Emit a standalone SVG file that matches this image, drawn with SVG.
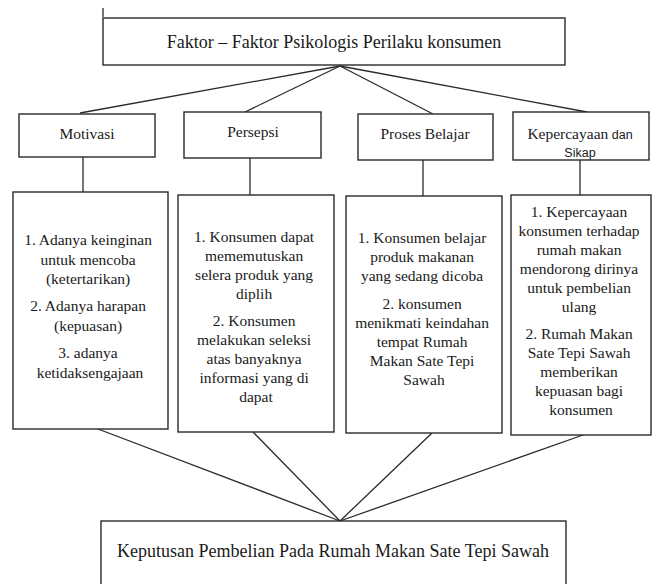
<svg xmlns="http://www.w3.org/2000/svg" width="653" height="584" viewBox="0 0 653 584">
<style>
.box{fill:#fff;stroke:#2a2a2a;stroke-width:1.4}
.ln{stroke:#2a2a2a;stroke-width:1.3;fill:none}
.t{font-family:"Liberation Serif","Times New Roman",serif;fill:#1a1a1a;text-anchor:middle}
.h{font-size:18px}
.m{font-size:15.5px}
.s{font-family:"Liberation Sans",Arial,sans-serif;font-size:12.5px;fill:#1a1a1a}
</style>
<rect width="653" height="584" fill="#fff"/>
<g id="connectors">
<line class="ln" x1="103" y1="8" x2="103" y2="17"/>
<line class="ln" x1="340" y1="66" x2="80" y2="113"/>
<line class="ln" x1="340" y1="66" x2="245" y2="112"/>
<line class="ln" x1="340" y1="66" x2="433" y2="114"/>
<line class="ln" x1="340" y1="66" x2="587" y2="112"/>
<line class="ln" x1="83" y1="157" x2="83" y2="192"/>
<line class="ln" x1="250" y1="158" x2="250" y2="195"/>
<line class="ln" x1="423" y1="160" x2="423" y2="196"/>
<line class="ln" x1="580" y1="160" x2="580" y2="195"/>
<line class="ln" x1="98" y1="429" x2="340" y2="521"/>
<line class="ln" x1="253" y1="432" x2="340" y2="521"/>
<line class="ln" x1="432" y1="433" x2="340" y2="521"/>
<line class="ln" x1="583" y1="435" x2="340" y2="521"/>
</g>
<g id="top">
<rect class="box" x="103" y="18" width="462" height="47"/>
<text class="t h" x="334" y="48">Faktor – Faktor Psikologis Perilaku konsumen</text>
</g>
<g id="motivasi">
<rect class="box" x="19" y="114" width="136" height="43"/>
<text class="t m" x="87" y="139">Motivasi</text>
</g>
<g id="persepsi">
<rect class="box" x="184" y="112" width="137" height="46"/>
<text class="t m" x="253" y="137">Persepsi</text>
</g>
<g id="proses">
<rect class="box" x="358" y="114" width="135" height="46"/>
<text class="t m" x="425" y="139">Proses Belajar</text>
</g>
<g id="kepercayaan">
<rect class="box" x="513" y="112" width="136" height="48"/>
<text x="580" y="139" style="text-anchor:middle"><tspan class="t m">Kepercayaan</tspan><tspan class="s"> dan</tspan></text>
<text class="s" x="580" y="157" text-anchor="middle">Sikap</text>
</g>
<g id="box1">
<rect class="box" x="13" y="192" width="155" height="237"/>
<text class="t m">
<tspan x="90" y="245">1. Adanya keinginan</tspan>
<tspan x="90" y="264.5">untuk mencoba</tspan>
<tspan x="90" y="284">(ketertarikan)</tspan>
<tspan x="90" y="311">2. Adanya harapan</tspan>
<tspan x="90" y="330.5">(kepuasan)</tspan>
<tspan x="90" y="358">3. adanya</tspan>
<tspan x="90" y="377.5">ketidaksengajaan</tspan>
</text>
</g>
<g id="box2">
<rect class="box" x="178" y="195" width="156" height="237"/>
<text class="t m">
<tspan x="256" y="242">1. Konsumen dapat</tspan>
<tspan x="256" y="261">mememutuskan</tspan>
<tspan x="256" y="280">selera produk yang</tspan>
<tspan x="256" y="299">diplih</tspan>
<tspan x="256" y="326">2. Konsumen</tspan>
<tspan x="256" y="345">melakukan seleksi</tspan>
<tspan x="256" y="364">atas banyaknya</tspan>
<tspan x="256" y="383">informasi yang di</tspan>
<tspan x="256" y="402">dapat</tspan>
</text>
</g>
<g id="box3">
<rect class="box" x="346" y="196" width="156" height="237"/>
<text class="t m">
<tspan x="424" y="243">1. Konsumen belajar</tspan>
<tspan x="424" y="262">produk makanan</tspan>
<tspan x="424" y="281">yang sedang dicoba</tspan>
<tspan x="424" y="309">2. konsumen</tspan>
<tspan x="424" y="328">menikmati keindahan</tspan>
<tspan x="424" y="347">tempat Rumah</tspan>
<tspan x="424" y="366">Makan Sate Tepi</tspan>
<tspan x="424" y="385">Sawah</tspan>
</text>
</g>
<g id="box4">
<rect class="box" x="511" y="195" width="140" height="240"/>
<text class="t m">
<tspan x="581" y="217">1. Kepercayaan</tspan>
<tspan x="581" y="236">konsumen terhadap</tspan>
<tspan x="581" y="255">rumah makan</tspan>
<tspan x="581" y="274">mendorong dirinya</tspan>
<tspan x="581" y="293">untuk pembelian</tspan>
<tspan x="581" y="312">ulang</tspan>
<tspan x="581" y="339">2. Rumah Makan</tspan>
<tspan x="581" y="358">Sate Tepi Sawah</tspan>
<tspan x="581" y="377">memberikan</tspan>
<tspan x="581" y="396">kepuasan bagi</tspan>
<tspan x="581" y="415">konsumen</tspan>
</text>
</g>
<g id="bottom">
<rect class="box" x="101" y="521" width="465" height="90"/>
<text class="t h" x="333" y="557">Keputusan Pembelian Pada Rumah Makan Sate Tepi Sawah</text>
</g>
</svg>
